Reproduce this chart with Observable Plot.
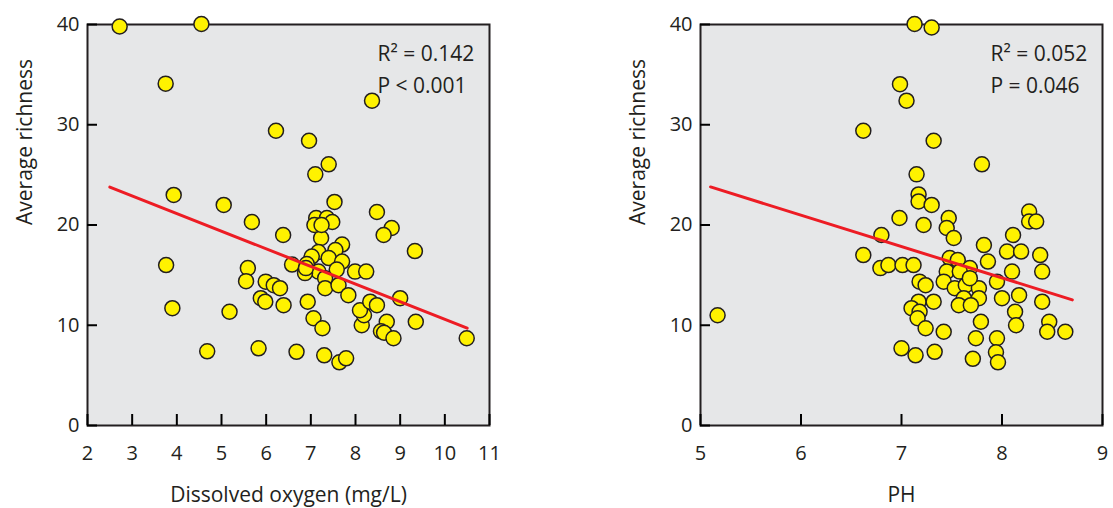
<!DOCTYPE html>
<html><head><meta charset="utf-8">
<script src="https://cdn.jsdelivr.net/npm/d3@7"></script>
<script src="https://cdn.jsdelivr.net/npm/@observablehq/plot@0.6"></script>
<style>
body{margin:0;background:#fff;}
#wrap{position:relative;width:1113px;height:508px;overflow:hidden;}
#left{position:absolute;left:0;top:0;}
#right{position:absolute;left:556px;top:0;}
</style></head><body><div id="wrap"><div id="left"></div><div id="right"></div></div>
<script>
// ---- data ----
const richnessTicks = [0, 10, 20, 30, 40];
const doTicks = [2, 3, 4, 5, 6, 7, 8, 9, 10, 11];
const phTicks = [5, 6, 7, 8, 9];

const doValues = [2.72,4.55,3.75,8.37,6.22,6.96,7.40,7.10,3.93,5.05,5.68,7.53,8.48,8.81,8.63,9.33,6.38,7.23,7.12,7.36,7.48,7.08,7.24,7.70,7.55,7.17,7.40,7.70,7.02,6.91,6.58,7.17,6.87,7.58,7.99,8.24,7.32,7.32,7.62,7.84,6.89,3.76,5.59,5.55,5.99,6.17,6.31,5.88,5.98,6.39,3.90,5.18,6.93,7.06,7.26,8.14,8.19,8.10,8.33,8.48,9.00,8.70,8.57,8.64,8.85,9.35,10.49,4.68,5.83,6.68,7.30,7.64,7.79];
const doRichness = [39.8,40.05,34.1,32.4,29.4,28.4,26.05,25.05,23.0,22.0,20.3,22.3,21.3,19.7,19.0,17.4,19.0,18.7,20.7,20.7,20.3,20.0,20.0,18.05,17.5,17.3,16.7,16.35,16.85,16.1,16.05,15.35,15.2,15.55,15.35,15.35,14.7,13.7,14.0,13.0,15.7,16.0,15.7,14.4,14.35,14.0,13.7,12.7,12.35,12.0,11.7,11.35,12.35,10.7,9.7,10.0,11.0,11.5,12.35,12.0,12.7,10.35,9.4,9.25,8.7,10.35,8.7,7.4,7.7,7.35,7.0,6.3,6.7];

const phValues = [7.13,7.30,6.985,7.05,6.62,7.32,7.80,7.15,7.17,7.17,7.30,6.98,7.22,7.47,7.45,7.52,6.80,6.62,6.79,6.87,7.01,7.12,7.48,7.56,7.68,7.45,7.58,7.82,7.86,8.11,8.05,8.19,8.10,8.27,8.27,8.34,8.38,8.40,7.18,7.24,7.42,7.53,7.64,7.77,7.68,7.95,7.17,7.32,7.10,7.18,7.16,7.24,7.42,7.62,7.77,7.57,7.69,8.00,8.17,8.13,8.14,8.40,7.79,7.74,7.95,7.94,7.96,7.71,7.00,7.14,7.33,8.47,8.45,8.63,5.17];
const phRichness = [40.05,39.7,34.05,32.4,29.4,28.4,26.05,25.05,23.05,22.35,22.0,20.7,20.0,20.7,19.7,18.7,19.0,17.0,15.7,16.0,16.0,16.0,16.7,16.5,15.7,15.35,15.35,18.0,16.35,19.0,17.35,17.35,15.35,21.35,20.35,20.35,17.0,15.35,14.35,14.0,14.35,13.7,14.0,13.7,14.7,14.35,12.35,12.35,11.7,11.35,10.7,9.7,9.35,12.7,12.7,12.0,12.0,12.7,13.0,11.35,10.0,12.35,10.35,8.7,8.7,7.3,6.3,6.65,7.7,7.0,7.35,10.35,9.35,9.35,11.0];

// regression fits
const doSlope = -1.7575, doIntercept = 28.17, doFitRange = [2.5, 10.5];
const phSlope = -3.13, phIntercept = 39.76, phFitRange = [5.1, 8.7];

const doStats = "R\u00B2 = 0.142\nP < 0.001";
const phStats = "R\u00B2 = 0.052\nP = 0.046";

const ink = "#231f20";
const yDomain = [0, 40];

function panel({xs, ys, xDomain, xTicks, xTitle, slope, intercept, fitRange, stats, width, marginLeft, marginRight}) {
  const height = 508, marginTop = 24, marginBottom = 83;
  const plotW = width - marginLeft - marginRight;
  const plotH = height - marginTop - marginBottom;
  const pts = xs.map((x, i) => ({x, y: ys[i]}));
  const fit = fitRange.map(x => ({x, y: intercept + slope * x}));
  // inward tick lengths expressed through the scales
  const yTickLen = (yDomain[1] - yDomain[0]) * 11 / plotH;
  const xTickLen = (xDomain[1] - xDomain[0]) * 10 / plotW;
  return Plot.plot({
    width, height, marginTop, marginBottom, marginLeft, marginRight,
    style: {fontFamily: "'Open Sans', sans-serif", fontSize: "20px", color: ink, background: "transparent"},
    x: {domain: xDomain, label: null},
    y: {domain: yDomain, label: null},
    marks: [
      Plot.frame({fill: "#e6e7e8", stroke: null}),
      Plot.axisX({ticks: xTicks, tickSize: 0, tickPadding: 20, tickFormat: d => String(d), fontSize: 20}),
      Plot.axisY({ticks: richnessTicks, tickSize: 0, tickPadding: 8, tickFormat: d => String(d), fontSize: 20}),
      Plot.frame({stroke: ink, strokeWidth: 2}),
      Plot.ruleX(xTicks, {x: d => d, y1: yDomain[0], y2: yDomain[0] + yTickLen, stroke: "#000", strokeWidth: 2}),
      Plot.ruleY(richnessTicks, {y: d => d, x1: xDomain[0], x2: xDomain[0] + xTickLen, stroke: "#000", strokeWidth: 2}),
      Plot.dot(pts, {x: "x", y: "y", r: 7.5, fill: "#fff200", stroke: ink, strokeWidth: 1.5}),
      Plot.line(fit, {x: "x", y: "y", stroke: "#ed1c24", strokeWidth: 3}),
      Plot.text([stats], {text: d => d, frameAnchor: "top-left", dx: 290, dy: 14, textAnchor: "start", lineAnchor: "top", lineHeight: 1.52, fontSize: 21, fill: ink}),
      Plot.text([xTitle], {text: d => d, frameAnchor: "bottom", dy: 70, lineAnchor: "middle", fontSize: 21, fill: ink}),
      Plot.text(["Average richness"], {text: d => d, frameAnchor: "left", dx: -62, rotate: -90, lineAnchor: "middle", fontSize: 21, fill: ink})
    ]
  });
}

document.getElementById("left").append(panel({
  xs: doValues, ys: doRichness, xDomain: [2, 11], xTicks: doTicks, xTitle: "Dissolved oxygen (mg/L)",
  slope: doSlope, intercept: doIntercept, fitRange: doFitRange, stats: doStats,
  width: 556, marginLeft: 87, marginRight: 67
}));
document.getElementById("right").append(panel({
  xs: phValues, ys: phRichness, xDomain: [5, 9], xTicks: phTicks, xTitle: "PH",
  slope: phSlope, intercept: phIntercept, fitRange: phFitRange, stats: phStats,
  width: 557, marginLeft: 144, marginRight: 11
}));
</script></body></html>
